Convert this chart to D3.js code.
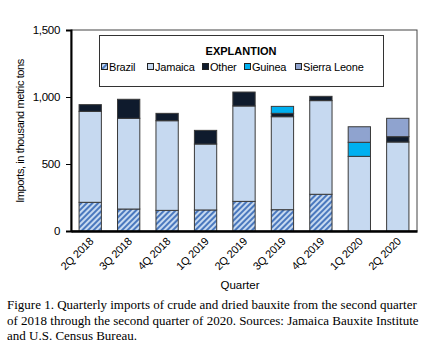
<!DOCTYPE html>
<html>
<head>
<meta charset="utf-8">
<script src="https://cdn.jsdelivr.net/npm/d3@7"></script>
<style>
  body { margin: 0; background: #fff; }
  text { font-family: "Liberation Sans", Arial, sans-serif; fill: #000; }
  .caption { font-family: "Liberation Serif", "Times New Roman", serif; font-size: 13px; }
</style>
</head>
<body>
<div id="chart"></div>
<script>
// Data (thousand metric tons)
var quarters = ["2Q 2018", "3Q 2018", "4Q 2018", "1Q 2019", "2Q 2019", "3Q 2019", "4Q 2019", "1Q 2020", "2Q 2020"];
var brazil = [214, 164, 154, 157, 221, 159, 274, 0, 0];
var jamaica = [679, 677, 669, 492, 712, 694, 699, 557, 664];
var other = [50, 142, 55, 102, 104, 25, 32, 0, 40];
var guinea = [0, 0, 0, 0, 0, 52, 0, 105, 0];
var sierraLeone = [0, 0, 0, 0, 0, 0, 0, 116, 137];
var seriesNames = ["Brazil", "Jamaica", "Other", "Guinea", "Sierra Leone"];
var yTicks = [0, 500, 1000, 1500];

var width = 444, height = 352;
var margin = { left: 71, top: 30, right: 27, bottom: 121 };

var svg = d3.select("#chart").append("svg")
    .attr("width", width)
    .attr("height", height);

// Hatch pattern for Brazil
var pat = svg.append("defs").append("pattern")
    .attr("id", "hatch")
    .attr("patternUnits", "userSpaceOnUse")
    .attr("width", 4)
    .attr("height", 4)
    .attr("patternTransform", "rotate(45)");
pat.append("rect").attr("width", 4).attr("height", 4).attr("fill", "#c6d9f0");
pat.append("rect").attr("width", 2).attr("height", 4).attr("fill", "#4a78be");

var color = d3.scaleOrdinal()
    .domain(seriesNames)
    .range(["url(#hatch)", "#c6d9f0", "#0f1b2d", "#00b0f0", "#8fa3cf"]);

// Table for stack
var table = quarters.map(function (q, i) {
    return {
        quarter: q,
        "Brazil": brazil[i],
        "Jamaica": jamaica[i],
        "Other": other[i],
        "Guinea": guinea[i],
        "Sierra Leone": sierraLeone[i]
    };
});
var stacked = d3.stack().keys(seriesNames)(table);

var x = d3.scaleBand()
    .domain(quarters)
    .range([margin.left, width - margin.right])
    .paddingInner(0.42)
    .paddingOuter(0.21);

var y = d3.scaleLinear()
    .domain([0, 1500])
    .range([231, margin.top]);

// Plot frame (top/right thin)
svg.append("rect")
    .attr("x", margin.left)
    .attr("y", margin.top)
    .attr("width", width - margin.right - margin.left)
    .attr("height", y(0) - margin.top)
    .attr("fill", "none")
    .attr("stroke", "#444")
    .attr("stroke-width", 1);

// Bars
svg.append("g").selectAll("g")
    .data(stacked)
    .enter().append("g")
    .attr("fill", function (d) { return color(d.key); })
    .selectAll("rect")
    .data(function (d) { return d.filter(function (p) { return p[1] - p[0] > 0; }); })
    .enter().append("rect")
    .attr("x", function (d) { return x(d.data.quarter); })
    .attr("y", function (d) { return y(d[1]); })
    .attr("width", x.bandwidth())
    .attr("height", function (d) { return y(d[0]) - y(d[1]); })
    .attr("stroke", "#3a3a3a")
    .attr("stroke-width", 1);

// Y axis
var yAxis = svg.append("g")
    .attr("transform", "translate(" + margin.left + ",0)")
    .call(d3.axisLeft(y).tickValues(yTicks).tickSize(5).tickFormat(d3.format(",")));
yAxis.select(".domain").attr("stroke", "#000").attr("stroke-width", 2);
yAxis.selectAll(".tick line").attr("stroke", "#000");
yAxis.selectAll(".tick text")
    .attr("font-size", 11.5)
    .attr("font-family", "Liberation Sans, Arial, sans-serif")
    .attr("letter-spacing", -0.3)
    .attr("x", -11);

// X axis
var xAxis = svg.append("g")
    .attr("transform", "translate(0," + y(0) + ")")
    .call(d3.axisBottom(x).tickSize(0).tickSizeOuter(0));
xAxis.select(".domain").attr("stroke", "#000").attr("stroke-width", 2.5);
xAxis.selectAll(".tick text")
    .attr("font-size", 11)
    .attr("font-family", "Liberation Sans, Arial, sans-serif")
    .attr("letter-spacing", -0.2)
    .attr("text-anchor", "end")
    .attr("dy", null)
    .attr("y", 0)
    .attr("transform", "translate(4,11) rotate(-45)");

// Axis titles
svg.append("text")
    .attr("transform", "translate(24,131) rotate(-90)")
    .attr("text-anchor", "middle")
    .attr("font-size", 11)
    .attr("letter-spacing", -0.4)
    .text("Imports, in thousand metric tons");

svg.append("text")
    .attr("x", 240)
    .attr("y", 289)
    .attr("text-anchor", "middle")
    .attr("font-size", 11.5)
    .text("Quarter");

// Legend
var legendX = [101, 147, 202, 244, 295];
var legend = svg.append("g");
legend.append("rect")
    .attr("x", 99.5).attr("y", 35.5)
    .attr("width", 284).attr("height", 51)
    .attr("fill", "#fff")
    .attr("stroke", "#333")
    .attr("stroke-width", 1);
legend.append("text")
    .attr("x", 241).attr("y", 55)
    .attr("text-anchor", "middle")
    .attr("font-size", 11)
    .attr("font-weight", "bold")
    .text("EXPLANTION");

seriesNames.forEach(function (name, i) {
    var item = legend.append("g").attr("transform", "translate(" + legendX[i] + ",63)");
    item.append("rect")
        .attr("x", 0.5).attr("y", 0.5)
        .attr("width", 6).attr("height", 6)
        .attr("fill", color(name))
        .attr("stroke", "#222")
        .attr("stroke-width", 1);
    item.append("text")
        .attr("x", 8).attr("y", 7.5)
        .attr("font-size", 11)
        .attr("letter-spacing", -0.2)
        .text(name);
});

// Caption
var caption = [
    "Figure 1. Quarterly imports of crude and dried bauxite from the second quarter",
    "of 2018 through the second quarter of 2020. Sources: Jamaica Bauxite Institute",
    "and U.S. Census Bureau."
];
svg.selectAll(".caption")
    .data(caption)
    .enter().append("text")
    .attr("class", "caption")
    .attr("x", 7)
    .attr("y", function (d, i) { return 309 + i * 15.5; })
    .text(function (d) { return d; });
</script>
</body>
</html>
